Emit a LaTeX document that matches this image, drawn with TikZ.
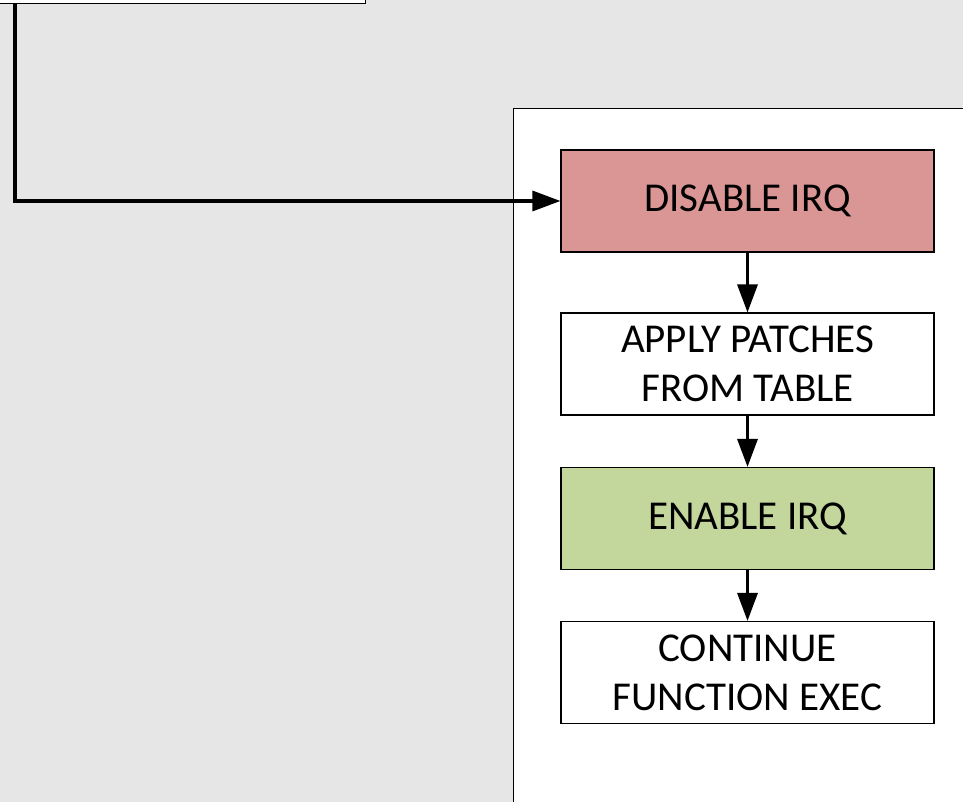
\documentclass[tikz,border=0pt]{standalone}
\usepackage{fontspec}
\setmainfont{Carlito}
\usetikzlibrary{arrows.meta}
\definecolor{stone}{HTML}{E6E6E6}
\definecolor{irqoff}{HTML}{D99694}
\definecolor{irqon}{HTML}{C3D69B}
\tikzset{
  stepbox/.style={draw=black, line width=1.1pt, minimum width=373pt, minimum height=102pt,
    inner sep=0pt, align=center, font=\fontsize{41}{49}\selectfont},
  flow/.style={draw=black, line width=3.2pt, -{Triangle[length=28pt,width=20pt]}},
  panel/.style={draw=black, line width=1.1pt, fill=white}
}
\begin{document}
\begin{tikzpicture}[x=1pt,y=1pt]
  \useasboundingbox (0,0) rectangle (963,802);
  % textured wall backdrop
  \fill[stone] (0,0) rectangle (963,802);
  % caller block at the top left, cut by the page edge
  \node[panel, anchor=south east, minimum width=380pt, minimum height=40pt, inner sep=0pt] (src) at (366,798) {};
  % patch routine panel
  \node[panel, anchor=north west, minimum width=470pt, minimum height=710pt, inner sep=0pt] (routine) at (513,694) {};
  % steps of the routine
  \node[stepbox, fill=irqoff] (disable) at (747.5,601) {DISABLE IRQ};
  \node[stepbox, fill=white] (apply) at (747.5,438) {APPLY PATCHES\\FROM TABLE};
  \node[stepbox, fill=irqon] (enable) at (747.5,283.5) {ENABLE IRQ};
  \node[stepbox, fill=white] (cont) at (747.5,129.5) {CONTINUE\\FUNCTION EXEC};
  % call line from the caller into the routine
  \coordinate (tap) at (15,798);
  \draw[flow] (tap) |- (disable.west);
  \draw[flow] (disable) -- (apply);
  \draw[flow] (apply) -- (enable);
  \draw[flow] (enable) -- (cont);
\end{tikzpicture}
\end{document}
